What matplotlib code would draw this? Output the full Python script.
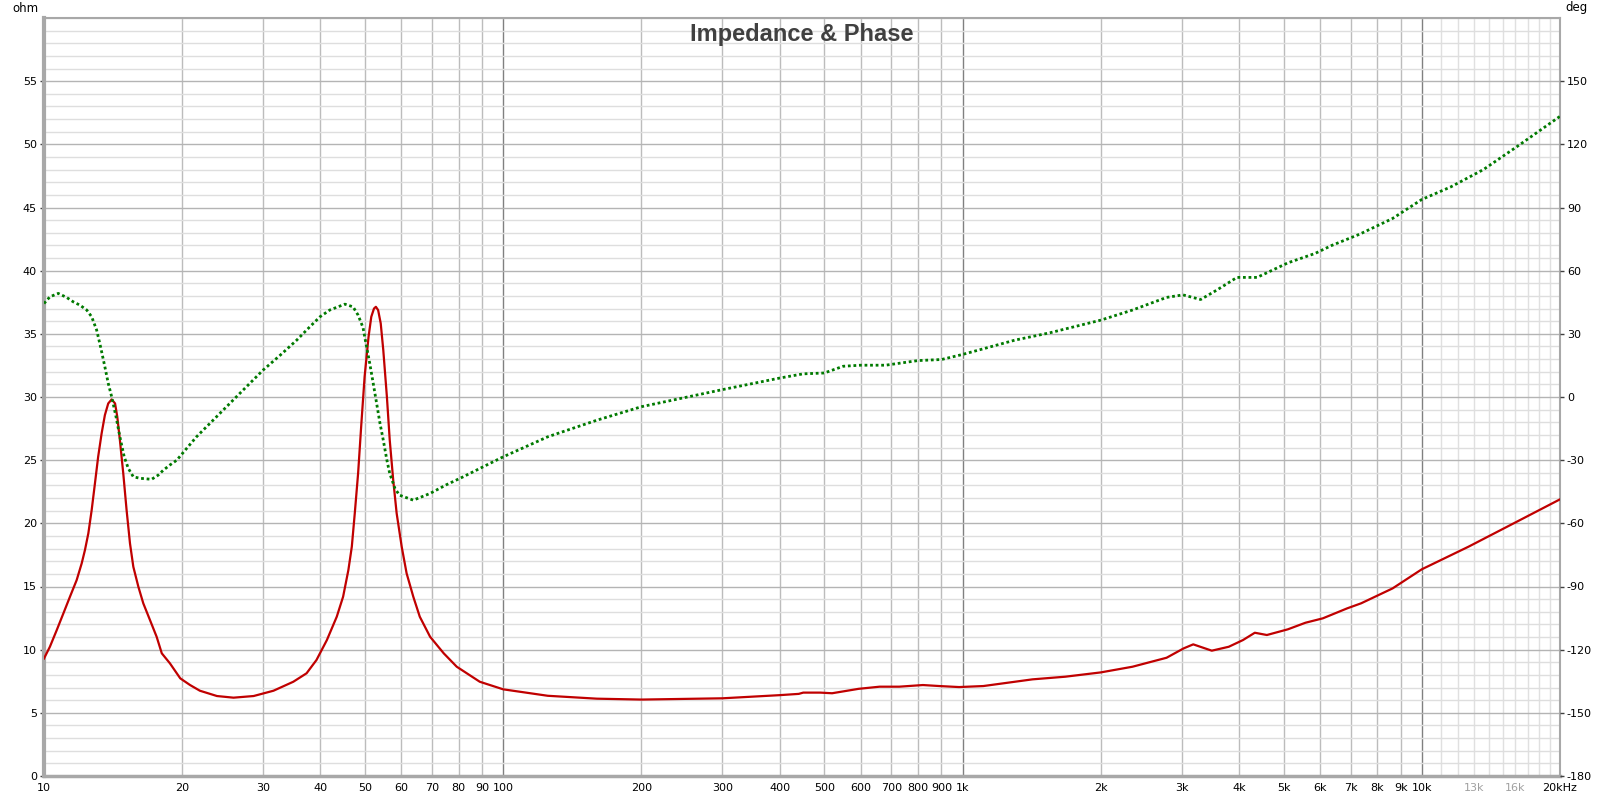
import matplotlib.pyplot as plt
from matplotlib.ticker import FixedLocator, NullFormatter

# impedance (ohm)
z_freq = [10, 10.3, 10.66, 11.02, 11.39, 11.78, 12.08, 12.28, 12.49, 12.7, 12.91, 13.12, 13.35,
          13.57, 13.8, 14.04, 14.28, 14.44, 14.63, 14.88, 15.13, 15.39, 15.65, 16.05, 16.45,
          17.01, 17.59, 18.05, 18.8, 19.8, 20.8, 21.85, 23.8, 25.86, 28.6, 31.6, 34.9, 37.3,
          39.2, 41.3, 43.4, 44.8, 46.0, 46.8, 47.5, 48.3, 49.1, 49.9, 50.9, 51.6, 52.3, 52.8,
          53.4, 54.1, 54.8, 55.8, 56.6, 57.6, 58.6, 60.1, 61.6, 63.7, 65.8, 69.3, 74.2, 79.2,
          88.9, 100, 125, 160, 200, 300, 400, 440, 450, 490, 520, 594, 660, 728, 820, 891, 983,
          1110, 1420, 1674, 2000, 2345, 2782, 3030, 3180, 3490, 3800, 4080, 4330, 4600, 5110,
          5580, 6090, 6880, 7380, 8640, 10000, 12640, 16090, 20000]
z_ohm = [9.3, 10.23, 11.55, 12.87, 14.19, 15.51, 16.83, 17.89, 19.21, 21.05, 23.16, 25.27, 27.12,
         28.57, 29.49, 29.81, 29.49, 28.43, 26.59, 23.95, 21.05, 18.41, 16.56, 14.98, 13.67,
         12.35, 11.02, 9.71, 8.92, 7.73, 7.2, 6.75, 6.33, 6.2, 6.33, 6.75, 7.46, 8.13,
         9.18, 10.76, 12.61, 14.19, 16.3, 18.15, 20.79, 23.95, 27.91, 31.6, 34.77, 36.35, 37.0, 37.14,
         36.88, 35.83, 33.71, 30.02, 26.59, 23.42, 20.79, 18.15, 16.04, 14.19, 12.61, 11.02, 9.71, 8.65,
         7.46, 6.86, 6.35, 6.12, 6.05, 6.15, 6.4, 6.5, 6.6, 6.6, 6.55, 6.9, 7.07, 7.07, 7.2, 7.12, 7.04,
         7.12, 7.65, 7.86, 8.2, 8.65, 9.36, 10.1, 10.42, 9.92, 10.23, 10.76, 11.34, 11.16, 11.61,
         12.13, 12.48, 13.27, 13.67, 14.85, 16.36, 18.15, 20.12, 21.9]

# phase (deg)
p_freq = [10, 10.3, 10.74, 11.2, 11.58, 11.98, 12.39, 12.7, 13.02, 13.28, 13.57, 13.8, 14.04,
          14.35, 14.63, 14.95, 15.26, 15.65, 16.18, 17.15, 17.73, 18.2, 18.8, 19.46, 20.45,
          21.48, 23.35, 25.4, 27.6, 30.0, 32.7, 35.5, 37.9, 39.9, 41.9, 45.2, 47.1, 48.3, 49.5,
          50.4, 51.2, 52.1, 53.0, 53.9, 54.8, 55.8, 56.6, 58.1, 59.4, 63.7, 69.3, 75.0, 81.8,
          90.5, 100, 125, 160, 200, 300, 400, 450, 500, 550, 600, 680, 800, 900, 1000, 1300,
          1550, 2000, 2345, 2782, 3020, 3300, 3580, 3960, 4380, 5110, 5860, 6370, 7320, 8640,
          10000, 11570, 13620, 16090, 20000]
p_deg = [44.4, 47.6, 49.2, 47.3, 45.2, 43.6, 41.3, 38.1, 31.8, 23.8, 14.3, 6.5, 0.1,
         -9.4, -18.9, -28.4, -33.9, -37.9, -38.6, -39.1, -37.1, -34.7, -32.3, -30.0, -24.4,
         -18.9, -11.0, -3.0, 4.9, 12.8, 19.9, 27.0, 33.3, 38.1, 41.3, 44.1, 42.8, 38.9, 33.0,
         23.8, 16.0, 6.5, -3.0, -12.5, -20.5, -30.0, -36.3, -43.4, -46.6, -49.0, -45.8, -41.8, -37.9,
         -33.1, -28.4, -18.9, -11.0, -4.6, 3.5, 9.0, 11.0, 11.4, 14.6, 15.1, 15.1, 17.3, 17.8, 20.2, 27.0,
         30.5, 36.5, 41.3, 47.3, 48.5, 46.3, 50.8, 56.8, 56.8, 63.7, 68.2, 72.0, 77.3, 84.8,
         93.8, 99.8, 108.0, 118.8, 133.3]

x_ticks = [10, 20, 30, 40, 50, 60, 70, 80, 90, 100, 200, 300, 400, 500, 600, 700, 800, 900,
           1000, 2000, 3000, 4000, 5000, 6000, 7000, 8000, 9000, 10000, 13000, 16000, 20000]
x_labels = ['10', '20', '30', '40', '50', '60', '70', '80', '90', '100', '200', '300', '400',
            '500', '600', '700', '800', '900', '1k', '2k', '3k', '4k', '5k', '6k', '7k', '8k',
            '9k', '10k', '13k', '16k', '20kHz']
x_minor = [11000, 12000, 14000, 15000, 17000, 18000, 19000]

plt.rcParams['font.family'] = ['DejaVu Sans']
plt.rcParams['axes.unicode_minus'] = False

fig = plt.figure(figsize=(16.17, 8.01), dpi=100)
ax = fig.add_axes([44 / 1617, 1 - 776 / 801, 1516 / 1617, 758 / 801])
ax2 = ax.twinx()
ax.set_xscale('log')
ax.set_xlim(10, 20000)
ax.set_ylim(0, 60)
ax2.set_ylim(-180, 180)

ax.xaxis.set_major_locator(FixedLocator(x_ticks))
ax.set_xticklabels(x_labels)
ax.xaxis.set_minor_locator(FixedLocator(x_minor))
ax.xaxis.set_minor_formatter(NullFormatter())
ax.set_yticks(range(0, 60, 5))
ax.set_yticks(range(0, 61), minor=True)
ax2.set_yticks(range(-180, 180, 30))

ax.grid(True, which='major', axis='y', color='#b4b4b4', lw=1)
ax.grid(True, which='minor', axis='y', color='#dedede', lw=1)
ax.grid(True, which='major', axis='x', color='#bcbcbc', lw=1)
ax.grid(True, which='minor', axis='x', color='#e0e0e0', lw=1)
for t, v in zip(ax.xaxis.get_major_ticks(), x_ticks):
    if v in (100, 1000, 10000):
        t.gridline.set_color('#808080')
    if v in (13000, 16000):
        t.gridline.set_color('#e0e0e0')
        t.label1.set_color('#a0a0a0')

ax.tick_params(axis='x', which='both', length=0, pad=5, labelsize=8)
ax.tick_params(axis='y', which='major', length=3, width=1, color='#404040', pad=2, labelsize=8)
ax.tick_params(axis='y', which='minor', length=0)
ax2.tick_params(axis='y', which='major', length=3, width=1, color='#404040', pad=2, labelsize=8)
ax2.tick_params(axis='y', which='minor', length=0)
for s in ax.spines.values():
    s.set_color('#a8a8a8')
    s.set_linewidth(1.5)
ax.spines['left'].set_linewidth(3)
ax.spines['bottom'].set_linewidth(2.5)
for s in ax2.spines.values():
    s.set_visible(False)

ax.plot(z_freq, z_ohm, color='#c00000', lw=1.6, zorder=3)
ax2.plot(p_freq, p_deg, color='#007a00', lw=2, linestyle=(0, (1, 1)), zorder=3)

ax.text(0.5, 1 - 16 / 758, 'Impedance & Phase', transform=ax.transAxes, ha='center', va='center',
        fontsize=17, fontweight='bold', color='#404040', family='Liberation Sans', zorder=5)
fig.text(25 / 1617, 1 - 8 / 801, 'ohm', ha='center', va='center', fontsize=8.5)
fig.text(1576 / 1617, 1 - 8 / 801, 'deg', ha='center', va='center', fontsize=8.5)

fig.savefig('out.png', dpi=100)
